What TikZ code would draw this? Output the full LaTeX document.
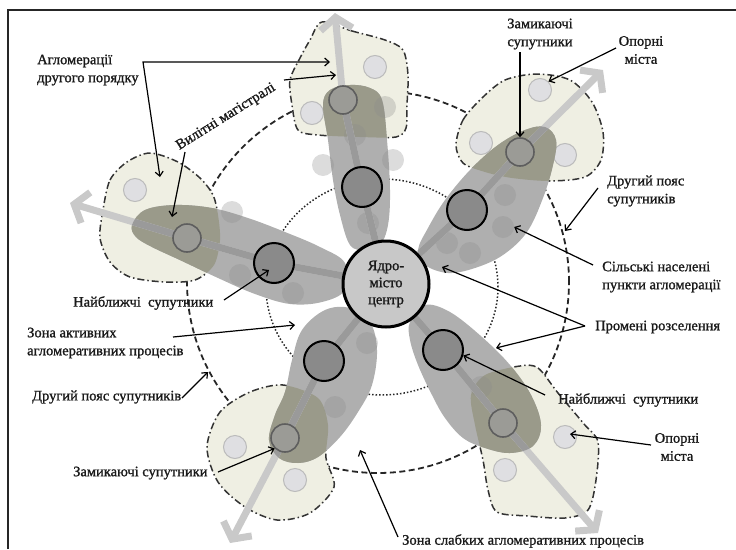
\documentclass[tikz,border=0pt]{standalone}
\usepackage{fontspec}
\setmainfont{Liberation Serif}[BoldFont=Liberation Serif, BoldFeatures={FakeBold=1.2}]
\usetikzlibrary{arrows.meta}
\definecolor{aglfill}{HTML}{EFEFE3}
\definecolor{petalgray}{HTML}{AFAFAF}
\definecolor{petalolive}{HTML}{9A9A8A}
\definecolor{raygray}{HTML}{C9C9C9}
\definecolor{raydarkc}{HTML}{9A9A9A}
\definecolor{satfill}{HTML}{8A8A8A}
\definecolor{zfill}{HTML}{9B9B96}
\definecolor{zdraw}{HTML}{5E5E5E}
\definecolor{oporfill}{HTML}{DFDFE2}
\definecolor{opordraw}{HTML}{BBBBBB}
\definecolor{corefill}{HTML}{C8C8C8}
\definecolor{txt}{HTML}{1A1A1A}

\newcommand\PetOne{plot[smooth cycle,tension=0.6] coordinates {(350,245) (340,215) (333,180) (328,140) (323,105) (330,90) (350,85) (370,88) (382,100) (387,140) (390,190) (388,225) (380,245) (365,250)}}
\newcommand\PetTwo{plot[smooth cycle,tension=0.6] coordinates {(425,265) (418,250) (428,228) (445,200) (470,170) (498,145) (525,130) (545,127) (556,140) (553,165) (543,198) (527,232) (503,255) (475,268) (448,273)}}
\newcommand\PetThree{plot[smooth cycle,tension=0.6] coordinates {(410,322) (425,305) (450,312) (482,337) (510,365) (531,395) (541,425) (533,446) (510,453) (485,448) (463,438) (445,418) (432,395) (418,365) (410,340)}}
\newcommand\PetFour{plot[smooth cycle,tension=0.6] coordinates {(350,308) (370,322) (377,350) (372,385) (358,412) (340,437) (318,457) (298,463) (279,458) (269,440) (275,415) (285,392) (292,360) (302,330) (325,310)}}
\newcommand\PetFive{plot[smooth cycle,tension=0.6] coordinates {(132,225) (145,210) (175,205) (212,208) (248,218) (285,232) (320,247) (345,263) (345,290) (322,302) (290,304) (255,294) (218,278) (182,261) (152,247) (136,237)}}

\newcommand\AglOne{plot[smooth cycle,tension=0.5] coordinates {(322,22) (352,31) (385,40) (403,50) (408,75) (407,105) (406,128) (396,137) (360,137) (318,135) (298,130) (292,105) (290,80) (300,58) (310,40)}}
\newcommand\AglTwo{plot[smooth cycle,tension=0.5] coordinates {(456,145) (463,120) (482,98) (505,80) (537,74) (570,80) (592,102) (603,132) (601,160) (585,177) (550,181) (512,178) (485,172) (463,163)}}
\newcommand\AglThree{plot[smooth cycle,tension=0.5] coordinates {(520,366) (538,368) (558,393) (584,424) (598,442) (596,480) (588,510) (565,518) (528,516) (497,512) (488,490) (483,460) (475,425) (471,395) (485,375)}}
\newcommand\AglFour{plot[smooth cycle,tension=0.5] coordinates {(283,385) (318,398) (328,425) (326,458) (334,487) (310,513) (277,520) (245,507) (218,482) (207,447) (220,412) (250,392)}}
\newcommand\AglFive{plot[smooth cycle,tension=0.5] coordinates {(103,210) (110,180) (127,162) (150,153) (178,162) (200,178) (213,195) (218,215) (220,240) (214,265) (195,280) (165,282) (130,277) (110,262) (100,238)}}

\begin{document}
\begin{tikzpicture}[x=1pt,y=-1pt,
  lbl/.style={font=\fontsize{14.5}{18}\selectfont\bfseries, inner sep=0pt, text=txt},
  conn/.style={draw=black, line width=1.2pt, >={Straight Barb[length=4.5pt,width=8pt]}, ->},
  agl/.style={fill=aglfill, draw=black!80, line width=1.5pt, dash pattern=on 7pt off 3pt on 1.5pt off 3pt},
  ray/.style={draw=raygray, line width=7pt, line join=round, -{Straight Barb[length=12pt,width=32pt]}},
  raydk/.style={draw=raydarkc, line width=7pt, line join=round},
  sat/.style={circle, fill=satfill, draw=black, line width=2pt, minimum size=40pt, inner sep=0pt},
  zsat/.style={circle, fill=zfill, draw=zdraw, line width=1.6pt, minimum size=28pt, inner sep=0pt},
  opor/.style={circle, fill=oporfill, draw=opordraw, line width=1pt, minimum size=23pt, inner sep=0pt},
  vil/.style={circle, fill=black!45, fill opacity=0.3, minimum size=22pt, inner sep=0pt},
  core/.style={circle, fill=corefill, draw=black, line width=3pt, minimum size=86pt, inner sep=0pt, align=center, font=\fontsize{14.5}{17}\selectfont\bfseries, text=txt},
]
\useasboundingbox (0,0) rectangle (736,549);
% frame
\coordinate (frTL) at (8,10);
\coordinate (frTR) at (736,10);
\coordinate (frBL) at (8,549);
\draw[line width=1.6pt, black!85] (frBL) -- (frTL) -- (frTR);

% zone circles
\draw[black!85, line width=1.8pt, dash pattern=on 6pt off 3.5pt] (378,282) circle[radius=191pt];
\draw[black!85, line width=1.5pt, dash pattern=on 1.5pt off 2pt] (382,287) ellipse[x radius=116pt, y radius=108pt];

% agglomerations
\path[agl] \AglOne;
\path[agl] \AglTwo;
\path[agl] \AglThree;
\path[agl] \AglFour;
\path[agl] \AglFive;

% support cities
\node[opor] (o11) at (312,113) {};
\node[opor] (o12) at (375,67) {};
\node[opor] (o21) at (540,90) {};
\node[opor] (o22) at (481,143) {};
\node[opor] (o23) at (565,155) {};
\node[opor] (o31) at (565,437) {};
\node[opor] (o32) at (505,470) {};
\node[opor] (o41) at (235,447) {};
\node[opor] (o42) at (295,480) {};
\node[opor] (o51) at (135,190) {};

% petals
\fill[petalgray] \PetOne;
\fill[petalgray] \PetTwo;
\fill[petalgray] \PetThree;
\fill[petalgray] \PetFour;
\fill[petalgray] \PetFive;
\begin{scope}\clip \AglOne; \fill[petalolive] \PetOne; \end{scope}
\begin{scope}\clip \AglTwo; \fill[petalolive] \PetTwo; \end{scope}
\begin{scope}\clip \AglThree; \fill[petalolive] \PetThree; \end{scope}
\begin{scope}\clip \AglFour; \fill[petalolive] \PetFour; \end{scope}
\begin{scope}\clip \AglFive; \fill[petalolive] \PetFive; \end{scope}

% rural settlements
\node[vil] (v1) at (323,165) {};
\node[vil] (v2) at (393,160) {};
\node[vil] (v3) at (385,107) {};
\node[vil] (v4) at (232,212) {};
\node[vil] (v5) at (240,275) {};
\node[vil] (v6) at (367,343) {};
\node[vil] (v7) at (368,223) {};
\node[vil] (v8) at (355,135) {};
\node[vil] (v9) at (293,293) {};
\node[vil] (v10) at (505,195) {};
\node[vil] (v13) at (503,227) {};
\node[vil] (v11) at (447,243) {};
\node[vil] (v12) at (470,253) {};
\node[vil] (v14) at (481,387) {};
\node[vil] (v15) at (335,407) {};

% ray coordinates
\coordinate (cc) at (386,284);
\coordinate (p1) at (362,187); \coordinate (q1) at (343,100); \coordinate (t1) at (335,13);
\coordinate (p2) at (467,210); \coordinate (q2) at (520,152); \coordinate (t2) at (603,70);
\coordinate (p3) at (443,350); \coordinate (q3) at (503,423); \coordinate (t3) at (598,533);
\coordinate (p4) at (324,361); \coordinate (q4) at (285,438); \coordinate (t4) at (230,543);
\coordinate (p5) at (274,263); \coordinate (q5) at (187,238); \coordinate (t5) at (70,203);

% rays
\draw[ray] (cc) -- (p1) -- (q1) -- (t1);
\draw[ray] (cc) -- (p2) -- (q2) -- (t2);
\draw[ray] (cc) -- (p3) -- (q3) -- (t3);
\draw[ray] (cc) -- (p4) -- (q4) -- (t4);
\draw[ray] (cc) -- (p5) -- (q5) -- (t5);
\begin{scope}\clip \PetOne; \draw[raydk] (cc) -- (p1) -- (q1) -- (t1); \end{scope}
\begin{scope}\clip \PetTwo; \draw[raydk] (cc) -- (p2) -- (q2) -- (t2); \end{scope}
\begin{scope}\clip \PetThree; \draw[raydk] (cc) -- (p3) -- (q3) -- (t3); \end{scope}
\begin{scope}\clip \PetFour; \draw[raydk] (cc) -- (p4) -- (q4) -- (t4); \end{scope}
\begin{scope}\clip \PetFive; \draw[raydk] (cc) -- (p5) -- (q5) -- (t5); \end{scope}

% satellites
\node[sat] (s1) at (p1) {};
\node[sat] (s2) at (p2) {};
\node[sat] (s3) at (p3) {};
\node[sat] (s4) at (p4) {};
\node[sat] (s5) at (p5) {};
\node[zsat] (z1) at (q1) {};
\node[zsat] (z2) at (q2) {};
\node[zsat] (z3) at (q3) {};
\node[zsat] (z4) at (q4) {};
\node[zsat] (z5) at (q5) {};

% core city
\node[core] (core) at (cc) {Ядро-\\місто\\центр};

% labels
\node[lbl, anchor=west, align=left] (Lagl) at (37,70) {Агломерації\\другого порядку};
\node[lbl, rotate=32] (Lvil) at (226,117) {Вилітні магістралі};
\node[lbl, align=center] (Lzam1) at (540,34) {Замикаючі\\супутники};
\node[lbl, align=center] (Lop1) at (641,50) {Опорні\\міста};
\node[lbl, anchor=west, align=left] (Lbelt1) at (607,191) {Другий пояс\\супутників};
\node[lbl, anchor=west, align=left] (Lsil) at (602,277) {Сільські населені\\пункти агломерації};
\node[lbl, anchor=west] (Lprom) at (595,327) {Промені розселення};
\node[lbl, anchor=west] (Lnai1) at (558,400) {Найближчі\ \ супутники};
\node[lbl, align=center] (Lop2) at (677,447) {Опорні\\міста};
\node[lbl, anchor=west] (Lweak) at (402,541) {Зона слабких агломеративних процесів};
\node[lbl, anchor=west] (Lnai2) at (73,303) {Найближчі\ \ супутники};
\node[lbl, anchor=west, align=left] (Lact) at (27,343) {Зона активних\\агломеративних процесів};
\node[lbl, anchor=west] (Lbelt2) at (32,397) {Другий пояс супутників};
\node[lbl, anchor=west] (Lzam2) at (73,473) {Замикаючі супутники};

% connector endpoints
\coordinate (aglsplit) at (143,62);
\coordinate (aglT) at (330,62);
\coordinate (aglL) at (160,177);
\coordinate (vilA) at (284,80);
\coordinate (vilB) at (336,75);
\coordinate (vilC) at (185,152);
\coordinate (vilD) at (172,217);
\coordinate (zamA) at (520,52);
\coordinate (opA) at (616,48);
\coordinate (beltA) at (598,188);
\coordinate (beltB) at (565,231);
\coordinate (silA) at (593,265);
\coordinate (promA) at (585,326);
\coordinate (promB) at (442,267);
\coordinate (promC) at (496,348);
\coordinate (naiA) at (545,395);
\coordinate (op2A) at (651,445);
\coordinate (op2B) at (570,434);
\coordinate (weakA) at (398,537);
\coordinate (weakB) at (360,450);
\coordinate (nai2A) at (224,300);
\coordinate (nai2B) at (269,270);
\coordinate (actA) at (173,337);
\coordinate (actB) at (295,325);
\coordinate (belt2A) at (182,398);
\coordinate (belt2B) at (208,372);
\coordinate (zam2A) at (218,472);

% connectors
\draw[conn, <->] (aglL) -- (aglsplit) -- (aglT);
\draw[conn] (vilA) -- (vilB);
\draw[conn] (vilC) -- (vilD);
\draw[conn] (zamA) -- (zamA |- z2.north);
\draw[conn] (opA) -- (o21.north east);
\draw[conn] (beltA) -- (beltB);
\draw[conn] (silA) -- (v13.east);
\draw[conn] (promA) -- (promB);
\draw[conn] (promA) -- (promC);
\draw[conn] (naiA) -- (s3.-15);
\draw[conn] (op2A) -- (op2B);
\draw[conn] (weakA) -- (weakB);
\draw[conn] (nai2A) -- (nai2B);
\draw[conn] (actA) -- (actB);
\draw[conn] (belt2A) -- (belt2B);
\draw[conn] (zam2A) -- (z4.-135);
\end{tikzpicture}
\end{document}
